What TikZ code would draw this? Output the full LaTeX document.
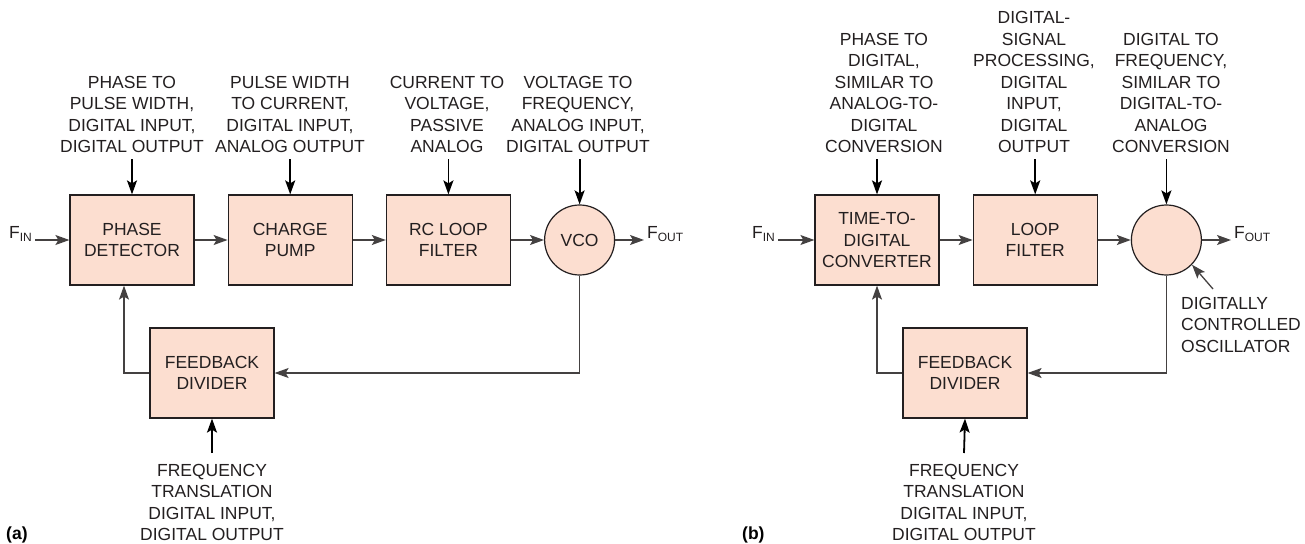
\documentclass[tikz,border=0pt]{standalone}
\usepackage{fontspec}
\setmainfont{Liberation Sans}
\usetikzlibrary{arrows.meta, positioning}

\definecolor{blockfill}{RGB}{252,222,208}
\definecolor{inkgray}{RGB}{35,31,32}
\newcommand{\lowtag}[1]{\raisebox{-0.35ex}{\fontsize{12}{12}\selectfont #1}}

\begin{document}
\begin{tikzpicture}[
    x=1pt, y=-1pt,
    node distance=33pt,
    font=\fontsize{17.5}{21.5}\selectfont,
    block/.style={rectangle, draw=inkgray, line width=1.2pt, fill=blockfill, minimum width=124pt, minimum height=90pt, align=center, text=inkgray},
    osc/.style={circle, draw=inkgray, line width=1.2pt, fill=blockfill, minimum size=70pt, inner sep=0pt, text=inkgray},
    note/.style={align=center, inner sep=0pt, text=inkgray},
    sig/.style={inner sep=3pt, text=inkgray},
    arr/.style={-{Stealth[length=14pt, width=10pt, inset=3pt]}, line width=1.3pt, draw=inkgray!85},
    varr/.style={-{Stealth[length=14pt, width=10pt, inset=3pt]}, line width=1.8pt, draw=black},
]

    \useasboundingbox (0,0) rectangle (1305,543);

    % (a) analog PLL
    \node[block] (PD) at (132,240) {PHASE\\DETECTOR};
    \node[block, right=of PD] (CP) {CHARGE\\PUMP};
    \node[block, right=of CP] (RC) {RC LOOP\\FILTER};
    \node[osc, right=of RC] (VCO) {VCO};
    \node[block] (FD) at (212,373) {FEEDBACK\\DIVIDER};

    \node[sig, anchor=base west] (inA) at (6,238) {F\lowtag{IN}};
    \node[sig, anchor=base west] (outA) at (644,238) {F\lowtag{OUT}};

    \node[note, anchor=south] (lPD) at (132,153) {PHASE TO\\PULSE WIDTH,\\DIGITAL INPUT,\\DIGITAL OUTPUT};
    \node[note, anchor=south] (lCP) at (290,153) {PULSE WIDTH\\TO CURRENT,\\DIGITAL INPUT,\\ANALOG OUTPUT};
    \node[note, anchor=south] (lRC) at (447,153) {CURRENT TO\\VOLTAGE,\\PASSIVE\\ANALOG};
    \node[note, anchor=south] (lVCO) at (578,153) {VOLTAGE TO\\FREQUENCY,\\ANALOG INPUT,\\DIGITAL OUTPUT};
    \node[note, anchor=north] (lFD) at (212,464) {FREQUENCY\\TRANSLATION\\DIGITAL INPUT,\\DIGITAL OUTPUT};

    \draw[varr] ([yshift=-6pt]lPD.south -| PD.north) -- (PD.north);
    \draw[varr] ([yshift=-6pt]lCP.south -| CP.north) -- (CP.north);
    \draw[varr] ([yshift=-6pt]lRC.south -| RC.north) -- (RC.north);
    \draw[varr] ([yshift=-6pt]lVCO.south -| VCO.north) -- (VCO.north);
    \draw[varr] ([yshift=11pt]lFD.north) -- (FD.south);

    \draw[arr] (inA.east |- PD) -- (PD);
    \draw[arr] (PD) -- (CP);
    \draw[arr] (CP) -- (RC);
    \draw[arr] (RC) -- (VCO);
    \draw[arr] (VCO) -- (outA.west |- VCO);
    \draw[arr] (VCO.south) |- (FD.east);
    \draw[arr] (FD.west) -| ([xshift=-8pt]PD.south);

    \node[font=\bfseries\fontsize{17.5}{21}\selectfont, anchor=base west, inner sep=0pt] (capA) at (6,539) {(a)};

    % (b) all-digital PLL
    \node[block] (TDC) at (877,240) {TIME-TO-\\DIGITAL\\CONVERTER};
    \node[block, right=of TDC] (LF) {LOOP\\FILTER};
    \node[osc, right=of LF] (DCO) {};
    \node[block] (FDb) at (965,373) {FEEDBACK\\DIVIDER};

    \node[sig, anchor=base west] (inB) at (749,238) {F\lowtag{IN}};
    \node[sig, anchor=base west] (outB) at (1231,238) {F\lowtag{OUT}};

    \node[note, anchor=south] (lTDC) at (884,153) {PHASE TO\\DIGITAL,\\SIMILAR TO\\ANALOG-TO-\\DIGITAL\\CONVERSION};
    \node[note, anchor=south] (lLF) at (1034,153) {DIGITAL-\\SIGNAL\\PROCESSING,\\DIGITAL\\INPUT,\\DIGITAL\\OUTPUT};
    \node[note, anchor=south] (lDCO) at (1171,153) {DIGITAL TO\\FREQUENCY,\\SIMILAR TO\\DIGITAL-TO-\\ANALOG\\CONVERSION};
    \node[note, anchor=north] (lFDb) at (964,464) {FREQUENCY\\TRANSLATION\\DIGITAL INPUT,\\DIGITAL OUTPUT};
    \node[note, align=left, anchor=north west] (nDCO) at (1181,297) {DIGITALLY\\CONTROLLED\\OSCILLATOR};

    \draw[varr] ([yshift=-6pt]lTDC.south -| TDC.north) -- (TDC.north);
    \draw[varr] ([yshift=-6pt]lLF.south -| LF.north) -- (LF.north);
    \draw[varr] ([yshift=-6pt]lDCO.south -| DCO.north) -- (DCO.north);
    \draw[varr] ([yshift=11pt]lFDb.north) -- (FDb.south);

    \draw[arr] (inB.east |- TDC) -- (TDC);
    \draw[arr] (TDC) -- (LF);
    \draw[arr] (LF) -- (DCO);
    \draw[arr] (DCO) -- (outB.west |- DCO);
    \draw[arr] (DCO.south) |- (FDb.east);
    \draw[arr] (FDb.west) -| (TDC.south);

    \coordinate (tipDCO) at (1213,289);
    \draw[arr] (tipDCO) -- (DCO.-44);

    \node[font=\bfseries\fontsize{17.5}{21}\selectfont, anchor=base west, inner sep=0pt] (capB) at (742,539) {(b)};

\end{tikzpicture}
\end{document}
